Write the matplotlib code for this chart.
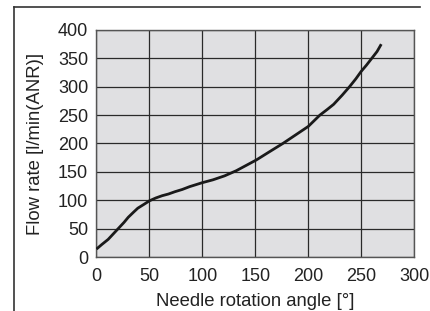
import numpy as np
import matplotlib.pyplot as plt
from matplotlib.lines import Line2D

plt.rcParams['font.family'] = ['Liberation Sans', 'DejaVu Sans']

# needle rotation angle [deg] vs flow rate [l/min(ANR)]
angle = [0, 5, 11, 16, 21, 26, 30, 35, 39, 45, 50, 56, 62, 68, 74, 81, 88, 100,
         110, 121, 132, 141, 151, 163, 176, 188, 200, 211, 218, 224, 232, 239,
         245, 250, 255, 260, 265, 269]
flow = [14, 22, 31, 41, 51, 61, 70, 79, 86, 93, 99, 104, 108, 111, 115, 119, 124, 131,
        136, 143, 152, 161, 171, 185, 200, 215, 230, 250, 260, 269, 285, 300,
        314, 327, 338, 350, 362, 375]

xticks = [0, 50, 100, 150, 200, 250, 300]
yticks = [0, 50, 100, 150, 200, 250, 300, 350, 400]

fig = plt.figure(figsize=(4.3, 3.11), dpi=100)
ax = fig.add_axes([0.2244, 0.1736, 0.7386, 0.73])
ax.set_facecolor('#e0e0e2')

ax.plot(angle, flow, color='#1a1a1a', lw=2.0, solid_capstyle='butt', zorder=3)

ax.set_xlim(0, 300)
ax.set_ylim(0, 400)
ax.set_xticks(xticks)
ax.set_yticks(yticks)
ax.grid(True, color='#2a2a2a', lw=0.9, zorder=1)
ax.set_axisbelow(True)
ax.tick_params(length=0, labelsize=13, colors='#222222')
ax.tick_params(axis='x', pad=8)
ax.tick_params(axis='y', pad=6)
for s in ax.spines.values():
    s.set_color('#555555')
    s.set_linewidth(1.0)

ax.set_xlabel('Needle rotation angle [°]', fontsize=13.3, color='#222222', labelpad=6)
ax.set_ylabel('Flow rate [l/min(ANR)]', fontsize=13.3, color='#222222', labelpad=10)

# outer frame (top and left edges)
fig.add_artist(Line2D([0.0314, 0.0314], [0.0, 0.979], color='#333333', lw=1.2))
fig.add_artist(Line2D([0.0314, 0.977], [0.979, 0.979], color='#333333', lw=1.2))

fig.savefig('out.png', dpi=100)
